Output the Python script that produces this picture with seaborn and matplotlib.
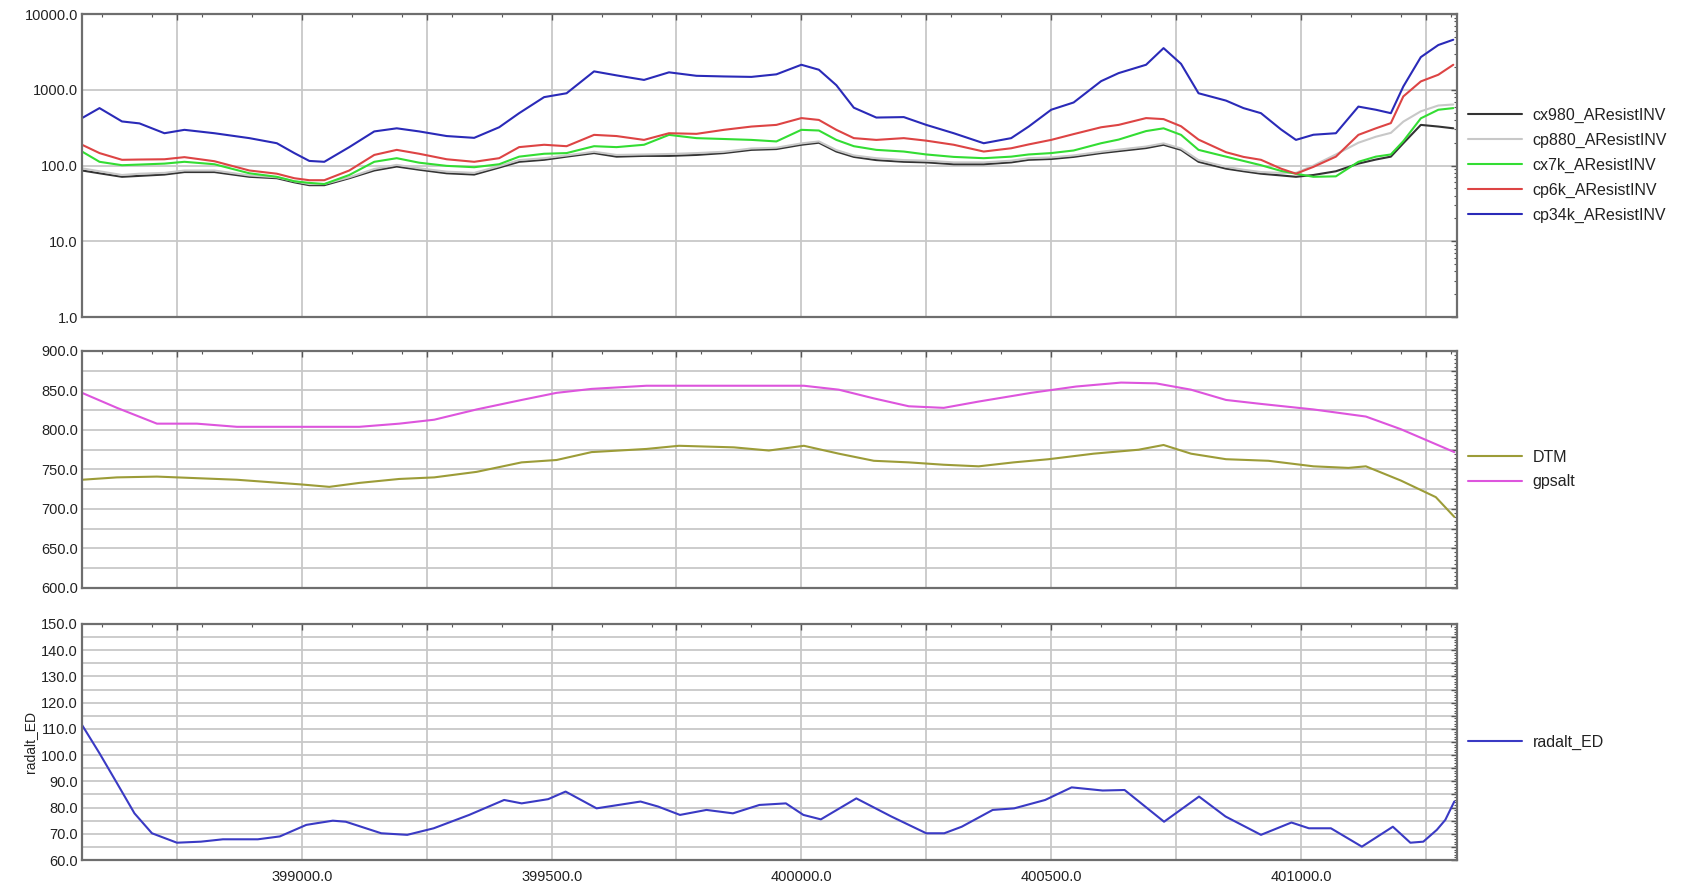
"""
Recreation of an airborne EM profile plot: apparent resistivity (log),
elevations (DTM / gpsalt) and radar altimeter along easting.
"""

import numpy as np
import pandas as pd
import matplotlib
matplotlib.use("Agg")
import matplotlib.pyplot as plt
from matplotlib.ticker import MultipleLocator, FixedLocator, FuncFormatter, LogLocator, NullFormatter
import seaborn as sns

# ---------------------------------------------------------------------------
# Data
# ---------------------------------------------------------------------------

# common easting for the resistivity channels
X_RES = [398560, 398595, 398640, 398675, 398725, 398765, 398825, 398895, 398950, 398985,
         399015, 399045, 399095, 399145, 399190, 399235, 399290, 399345, 399395, 399435,
         399485, 399530, 399585, 399630, 399685, 399735, 399790, 399845, 399900, 399950,
         400000, 400035, 400070, 400105, 400150, 400205, 400250, 400305, 400365, 400420,
         400455, 400500, 400545, 400600, 400635, 400690, 400725, 400760, 400795, 400850,
         400885, 400920, 400960, 400990, 401025, 401070, 401115, 401150, 401180, 401205,
         401240, 401275, 401305]

CX980 = [86, 79, 71, 73, 76, 82, 82, 71, 68, 60,
         55, 55, 68, 86, 97, 88, 79, 76, 94, 112,
         119, 131, 146, 131, 134, 134, 138, 146, 161, 165,
         188, 200, 153, 130, 118, 112, 110, 104, 104, 110,
         119, 122, 130, 146, 155, 170, 188, 161, 112, 91,
         84, 78, 74, 71, 75, 84, 106, 120, 131, 197,
         344, 327, 310]

CP880 = [92, 84, 75, 78, 80, 86, 86, 74, 70, 62,
         57, 57, 70, 90, 102, 92, 83, 80, 98, 118,
         125, 136, 152, 138, 140, 142, 146, 152, 168, 172,
         196, 208, 160, 136, 125, 118, 116, 110, 110, 116,
         125, 128, 136, 152, 162, 178, 196, 168, 118, 96,
         88, 82, 80, 80, 100, 140, 200, 240, 270, 380,
         520, 620, 640]

CX7K = [153, 112, 101, 103, 106, 112, 104, 79, 71, 62,
        59, 57, 75, 112, 125, 109, 99, 95, 104, 131,
        143, 146, 180, 175, 188, 254, 230, 224, 218, 208,
        296, 290, 218, 180, 161, 153, 140, 130, 125, 131,
        140, 146, 158, 197, 220, 285, 310, 254, 161, 131,
        115, 101, 85, 78, 71, 72, 112, 131, 140, 210,
        420, 545, 573]

CP6K = [188, 146, 119, 120, 121, 129, 114, 86, 78, 68,
        64, 64, 86, 138, 161, 143, 121, 112, 125, 175,
        188, 180, 254, 245, 218, 267, 262, 296, 327, 344,
        423, 400, 296, 230, 218, 230, 213, 188, 153, 169,
        190, 218, 260, 320, 344, 423, 410, 330, 220, 150,
        130, 119, 91, 78, 96, 131, 254, 310, 363, 818,
        1290, 1580, 2140]

CP34K = [423, 573, 382, 360, 267, 296, 267, 230, 197, 146,
         115, 112, 175, 282, 310, 282, 245, 232, 320, 491,
         800, 900, 1750, 1550, 1350, 1700, 1530, 1500, 1480, 1600,
         2140, 1840, 1150, 580, 430, 436, 344, 267, 197, 230,
         327, 545, 680, 1300, 1660, 2140, 3550, 2200, 900, 720,
         573, 491, 300, 218, 255, 267, 600, 545, 491, 1107,
         2700, 3900, 4580]

RES_NAMES = ["cx980_AResistINV", "cp880_AResistINV", "cx7k_AResistINV",
             "cp6k_AResistINV", "cp34k_AResistINV"]
RES_COLORS = ["#333333", "#c8c8c8", "#33dd33", "#dd4444", "#2a2ab8"]

X_DTM = [398560, 398630, 398710, 398790, 398870, 399000, 399055, 399115, 399195, 399265,
         399350, 399440, 399510, 399580, 399690, 399755, 399865, 399935, 400005, 400075,
         400145, 400215, 400285, 400355, 400425, 400495, 400585, 400675, 400725, 400780,
         400850, 400935, 401025, 401095, 401130, 401200, 401270, 401307]
DTM = [737, 740, 741, 739, 737, 731, 728, 733, 738, 740,
       747, 759, 762, 772, 776, 780, 778, 774, 780, 770,
       761, 759, 756, 754, 759, 763, 770, 775, 781, 770,
       763, 761, 754, 752, 754, 736, 715, 690]

X_GPS = [398560, 398630, 398710, 398790, 398870, 399000, 399115, 399195, 399265, 399350,
         399440, 399510, 399580, 399690, 399790, 400005, 400075, 400145, 400215, 400285,
         400355, 400460, 400550, 400640, 400710, 400780, 400850, 400920, 401025, 401130,
         401200, 401307]
GPSALT = [847, 828, 808, 808, 804, 804, 804, 808, 813, 826,
          838, 847, 852, 856, 856, 856, 851, 840, 830, 828,
          836, 847, 855, 860, 859, 851, 838, 833, 826, 817,
          801, 772]

X_RAD = [398560, 398595, 398630, 398665, 398700, 398750, 398798, 398842, 398912, 398956,
         399009, 399062, 399088, 399159, 399211, 399264, 399335, 399405, 399440, 399493,
         399528, 399590, 399634, 399678, 399713, 399757, 399810, 399863, 399916, 399969,
         400004, 400039, 400110, 400180, 400250, 400286, 400321, 400383, 400426, 400488,
         400541, 400603, 400647, 400726, 400796, 400849, 400920, 400981, 401016, 401060,
         401122, 401184, 401219, 401245, 401272, 401289, 401307]
RADALT = [111.5, 100.7, 89.3, 77.8, 70.2, 66.6, 67.0, 67.9, 67.9, 69.0,
          73.4, 75.0, 74.6, 70.2, 69.6, 72.1, 77.2, 82.9, 81.6, 83.2,
          86.1, 79.7, 81.0, 82.3, 80.4, 77.2, 79.1, 77.8, 81.0, 81.6,
          77.2, 75.5, 83.5, 76.6, 70.2, 70.2, 72.7, 79.1, 79.7, 82.9,
          87.7, 86.5, 86.7, 74.6, 84.2, 76.6, 69.6, 74.3, 72.1, 72.1,
          65.1, 72.7, 66.6, 67.0, 71.5, 75.3, 82.3]

X_LIM = (398560, 401312)
GRID_C = "#c8c8c8"
TXT_C = "#222222"

# ---------------------------------------------------------------------------
# Helpers
# ---------------------------------------------------------------------------

def every(step):
    """Label only multiples of step, one decimal."""
    def f(v, pos):
        return f"{v:.1f}" if abs(v / step - round(v / step)) < 1e-6 else ""
    return FuncFormatter(f)


def style_axis(ax, show_x=False):
    ax.set_xlim(*X_LIM)
    ax.xaxis.set_major_locator(MultipleLocator(250))
    ax.xaxis.set_minor_locator(MultipleLocator(100))
    ax.xaxis.set_major_formatter(every(500) if show_x else NullFormatter())
    ax.grid(True, which="major", color=GRID_C, linewidth=1.3)
    ax.tick_params(which="both", direction="in", top=True, right=True,
                   colors="#555555", labelcolor=TXT_C, labelsize=10.5)
    ax.tick_params(which="major", length=4, width=1)
    ax.tick_params(which="minor", length=2.5, width=0.8)
    ax.tick_params(axis="y", pad=3)
    ax.tick_params(axis="x", pad=7)
    for s in ax.spines.values():
        s.set_color("#6e6e6e")
        s.set_linewidth(1.6)
    ax.set_xlabel("")
    ax.set_ylabel("")


def put_legend(ax):
    ax.legend(loc="center left", bbox_to_anchor=(1.008, 0.5), frameon=False,
              fontsize=11.5, handlelength=3.4, handletextpad=0.65,
              labelspacing=0.62, borderpad=0, borderaxespad=0,
              labelcolor=TXT_C)

# ---------------------------------------------------------------------------
# Figure
# ---------------------------------------------------------------------------

sns.set_style("white")
plt.rcParams["font.family"] = ["Liberation Sans", "DejaVu Sans"]

fig = plt.figure(figsize=(16.91, 8.89), dpi=100)
ax1 = fig.add_axes([0.0485, 0.6434, 0.813, 0.3408])
ax2 = fig.add_axes([0.0485, 0.3386, 0.813, 0.2666])
ax3 = fig.add_axes([0.0485, 0.0326, 0.813, 0.2655])

# --- resistivity panel ----------------------------------------------------
res = pd.DataFrame({"x": X_RES, RES_NAMES[0]: CX980, RES_NAMES[1]: CP880,
                    RES_NAMES[2]: CX7K, RES_NAMES[3]: CP6K, RES_NAMES[4]: CP34K})
res_long = res.melt(id_vars="x", var_name="channel", value_name="rho")
sns.lineplot(data=res_long, x="x", y="rho", hue="channel", hue_order=RES_NAMES,
             palette=dict(zip(RES_NAMES, RES_COLORS)), estimator=None,
             linewidth=1.5, ax=ax1)
ax1.set_yscale("log")
ax1.set_ylim(1, 10000)
ax1.yaxis.set_major_locator(FixedLocator([1, 10, 100, 1000, 10000]))
ax1.yaxis.set_minor_locator(LogLocator(base=10, subs=np.arange(2, 10)))
ax1.yaxis.set_minor_formatter(NullFormatter())
ax1.yaxis.set_major_formatter(FuncFormatter(lambda v, p: f"{v:.1f}"))
style_axis(ax1)
put_legend(ax1)

# --- elevation panel ------------------------------------------------------
sns.lineplot(x=X_DTM, y=DTM, color="#9c9c38", linewidth=1.5, label="DTM", ax=ax2)
sns.lineplot(x=X_GPS, y=GPSALT, color="#dd55dd", linewidth=1.5, label="gpsalt", ax=ax2)
ax2.set_ylim(600, 900)
ax2.yaxis.set_major_locator(MultipleLocator(25))
ax2.yaxis.set_minor_locator(MultipleLocator(5))
ax2.yaxis.set_major_formatter(every(50))
style_axis(ax2)
put_legend(ax2)

# --- radar altimeter panel ------------------------------------------------
sns.lineplot(x=X_RAD, y=RADALT, color="#3a3ac4", linewidth=1.5, label="radalt_ED", ax=ax3)
ax3.set_ylim(60, 150)
ax3.yaxis.set_major_locator(MultipleLocator(5))
ax3.yaxis.set_minor_locator(MultipleLocator(1))
ax3.yaxis.set_major_formatter(every(10))
style_axis(ax3, show_x=True)
ax3.set_ylabel("radalt_ED", fontsize=10, color=TXT_C, labelpad=3)
put_legend(ax3)

fig.savefig("out.png", dpi=100)
plt.close(fig)
